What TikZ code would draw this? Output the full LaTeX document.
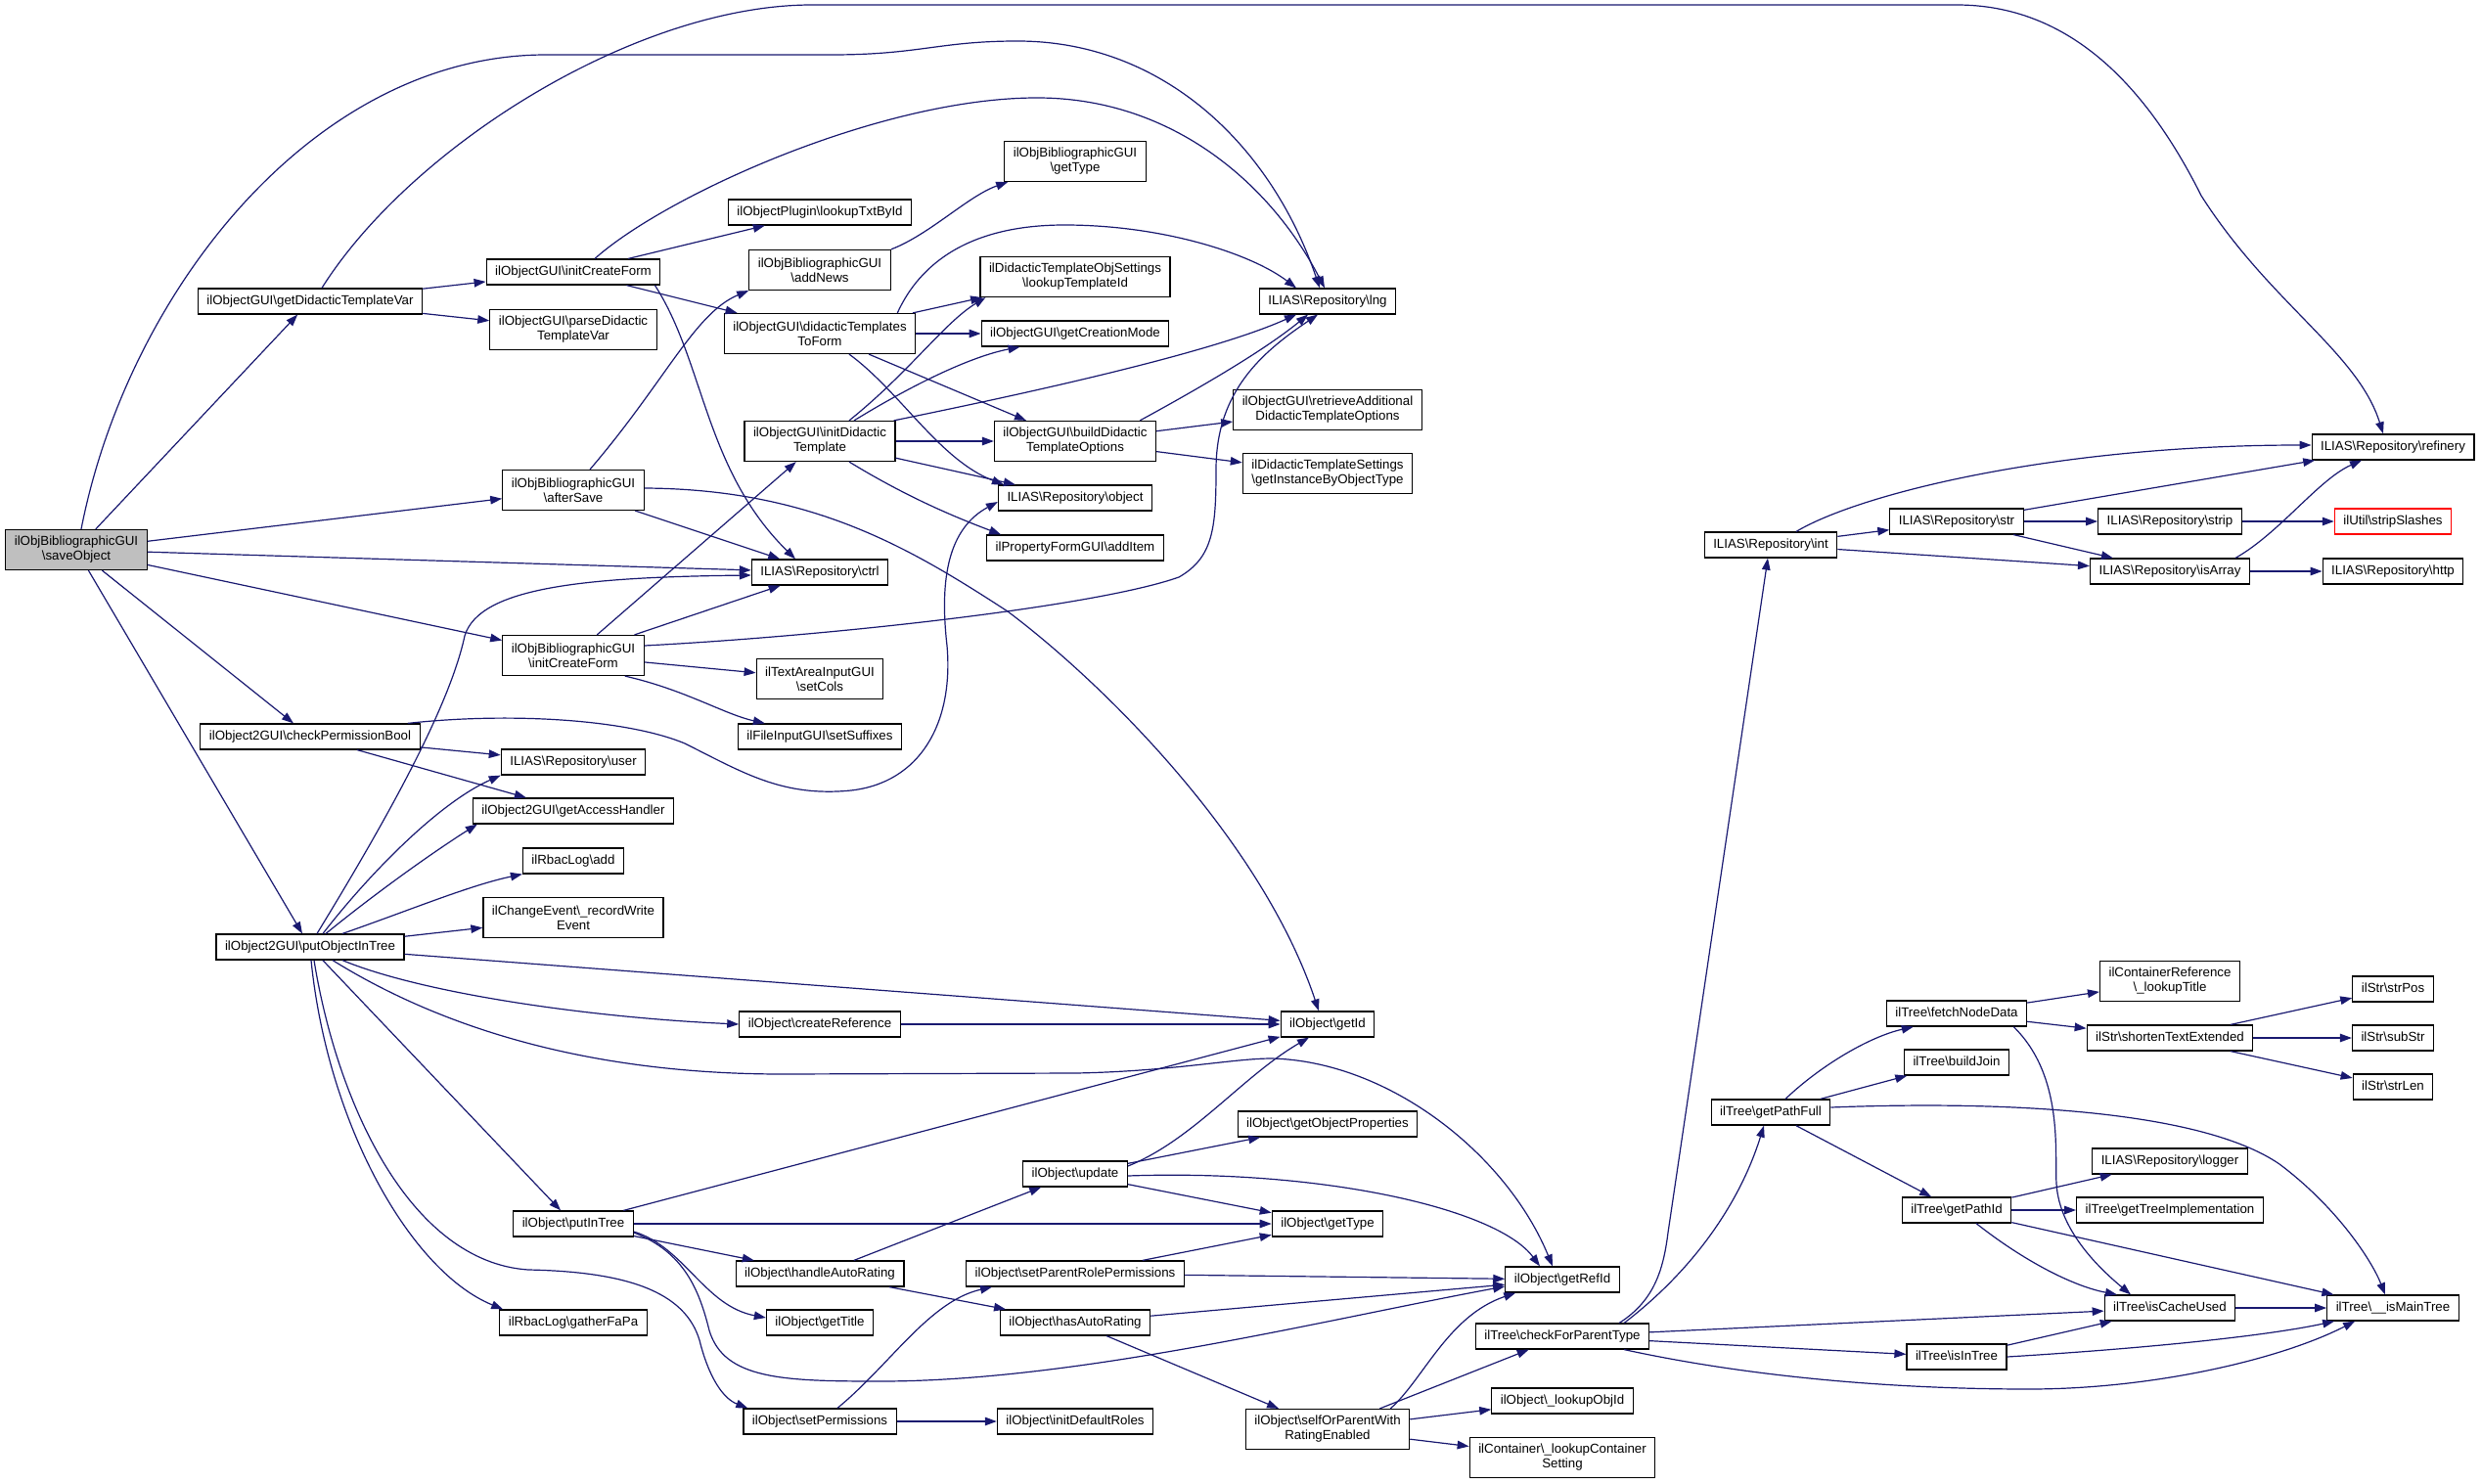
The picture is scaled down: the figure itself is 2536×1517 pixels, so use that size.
\documentclass[tikz,border=0pt]{standalone}
\usepackage{fontspec}
\setmainfont{Liberation Sans}
\usepackage{xcolor}
\usepackage{tikz}
\usetikzlibrary{arrows.meta}
\definecolor{edgeblue}{HTML}{191970}
\definecolor{rootgray}{HTML}{BFBFBF}
\newcommand{\bksl}{\textbackslash}
\tikzset{
  fn/.style={draw=black, line width=1.2pt, fill=white, inner xsep=9pt, inner ysep=0pt,
    minimum height=26pt, text height=10pt, text depth=3pt,
    font=\fontsize{13.3}{15}\selectfont},
  fntwo/.style={fn, align=center, text height=, text depth=, minimum height=41pt},
  fnroot/.style={fntwo, fill=rootgray},
  fnred/.style={fn, draw=red},
  call/.style={draw=edgeblue, line width=1.2pt, -{Triangle[length=12pt,width=8.5pt]}}
}

\begin{document}
\begin{tikzpicture}[x=1pt,y=-1pt]
  \useasboundingbox (0,0) rectangle (2536,1517);

  \node[fnroot] (save) at (78,562) {ilObjBibliographicGUI\\\bksl{}saveObject};
  \node[fn] (gdtv) at (317,308) {ilObjectGUI\bksl{}getDidacticTemplateVar};
  \node[fn] (cpb) at (317,753) {ilObject2GUI\bksl{}checkPermissionBool};
  \node[fn] (poit) at (317,968) {ilObject2GUI\bksl{}putObjectInTree};

  \node[fn] (icf) at (586,278) {ilObjectGUI\bksl{}initCreateForm};
  \node[fntwo] (pdtv) at (586,337) {ilObjectGUI\bksl{}parseDidactic\\TemplateVar};
  \node[fntwo] (aftersave) at (586,501) {ilObjBibliographicGUI\\\bksl{}afterSave};
  \node[fntwo] (icfbib) at (586,670) {ilObjBibliographicGUI\\\bksl{}initCreateForm};
  \node[fn] (user) at (586,779) {ILIAS\bksl{}Repository\bksl{}user};
  \node[fn] (gah) at (586,829) {ilObject2GUI\bksl{}getAccessHandler};
  \node[fn] (rbacadd) at (586,880) {ilRbacLog\bksl{}add};
  \node[fntwo] (recwrite) at (586,938) {ilChangeEvent\bksl\_recordWrite\\Event};
  \node[fn] (putintree) at (586,1251) {ilObject\bksl{}putInTree};
  \node[fn] (gather) at (586,1352) {ilRbacLog\bksl{}gatherFaPa};

  \node[fn] (lookuptxt) at (838,217) {ilObjectPlugin\bksl{}lookupTxtById};
  \node[fntwo] (addnews) at (838,276) {ilObjBibliographicGUI\\\bksl{}addNews};
  \node[fntwo] (dttf) at (838,341) {ilObjectGUI\bksl{}didacticTemplates\\ToForm};
  \node[fntwo] (idt) at (838,451) {ilObjectGUI\bksl{}initDidactic\\Template};
  \node[fn] (ctrl) at (838,585) {ILIAS\bksl{}Repository\bksl{}ctrl};
  \node[fntwo] (setcols) at (838,694) {ilTextAreaInputGUI\\\bksl{}setCols};
  \node[fn] (setsuff) at (838,753) {ilFileInputGUI\bksl{}setSuffixes};
  \node[fn] (createref) at (838,1047) {ilObject\bksl{}createReference};
  \node[fn] (har) at (838,1302) {ilObject\bksl{}handleAutoRating};
  \node[fn] (gettitle) at (838,1352) {ilObject\bksl{}getTitle};
  \node[fn] (setperm) at (838,1453) {ilObject\bksl{}setPermissions};

  \node[fntwo] (bibtype) at (1099,165) {ilObjBibliographicGUI\\\bksl{}getType};
  \node[fntwo] (lookuptpl) at (1099,283) {ilDidacticTemplateObjSettings\\\bksl{}lookupTemplateId};
  \node[fn] (creamode) at (1099,341) {ilObjectGUI\bksl{}getCreationMode};
  \node[fntwo] (bdto) at (1099,451) {ilObjectGUI\bksl{}buildDidactic\\TemplateOptions};
  \node[fn] (object) at (1099,509) {ILIAS\bksl{}Repository\bksl{}object};
  \node[fn] (additem) at (1099,560) {ilPropertyFormGUI\bksl{}addItem};
  \node[fn] (update) at (1099,1200) {ilObject\bksl{}update};
  \node[fn] (sprp) at (1099,1302) {ilObject\bksl{}setParentRolePermissions};
  \node[fn] (hasar) at (1099,1352) {ilObject\bksl{}hasAutoRating};
  \node[fn] (initroles) at (1099,1453) {ilObject\bksl{}initDefaultRoles};

  \node[fn] (lng) at (1357,308) {ILIAS\bksl{}Repository\bksl{}lng};
  \node[fntwo] (retrieve) at (1357,419) {ilObjectGUI\bksl{}retrieveAdditional\\DidacticTemplateOptions};
  \node[fntwo] (getinst) at (1357,484) {ilDidacticTemplateSettings\\\bksl{}getInstanceByObjectType};
  \node[fn] (getid) at (1357,1047) {ilObject\bksl{}getId};
  \node[fn] (objprops) at (1357,1149) {ilObject\bksl{}getObjectProperties};
  \node[fn] (objtype) at (1357,1251) {ilObject\bksl{}getType};
  \node[fntwo] (selfor) at (1357,1461) {ilObject\bksl{}selfOrParentWith\\RatingEnabled};

  \node[fn] (refid) at (1597,1308) {ilObject\bksl{}getRefId};
  \node[fn] (cfpt) at (1597,1366) {ilTree\bksl{}checkForParentType};
  \node[fn] (lookupobj) at (1597,1432) {ilObject\bksl\_lookupObjId};
  \node[fntwo] (lookupcont) at (1597,1490) {ilContainer\bksl\_lookupContainer\\Setting};

  \node[fn] (int) at (1810,557) {ILIAS\bksl{}Repository\bksl{}int};
  \node[fn] (pathfull) at (1810,1137) {ilTree\bksl{}getPathFull};

  \node[fn] (str) at (2000,533) {ILIAS\bksl{}Repository\bksl{}str};
  \node[fn] (fetch) at (2000,1036) {ilTree\bksl{}fetchNodeData};
  \node[fn] (buildjoin) at (2000,1086) {ilTree\bksl{}buildJoin};
  \node[fn] (pathid) at (2000,1237) {ilTree\bksl{}getPathId};
  \node[fn] (isintree) at (2000,1387) {ilTree\bksl{}isInTree};

  \node[fn] (strip) at (2218,533) {ILIAS\bksl{}Repository\bksl{}strip};
  \node[fn] (isarray) at (2218,584) {ILIAS\bksl{}Repository\bksl{}isArray};
  \node[fntwo] (lookuptitle) at (2218,1003) {ilContainerReference\\\bksl\_lookupTitle};
  \node[fn] (shorten) at (2218,1061) {ilStr\bksl{}shortenTextExtended};
  \node[fn] (logger) at (2218,1187) {ILIAS\bksl{}Repository\bksl{}logger};
  \node[fn] (treeimpl) at (2218,1237) {ilTree\bksl{}getTreeImplementation};
  \node[fn] (cacheused) at (2218,1337) {ilTree\bksl{}isCacheUsed};

  \node[fn] (refinery) at (2446,457) {ILIAS\bksl{}Repository\bksl{}refinery};
  \node[fnred] (stripsl) at (2446,533) {ilUtil\bksl{}stripSlashes};
  \node[fn] (http) at (2446,584) {ILIAS\bksl{}Repository\bksl{}http};
  \node[fn] (strpos) at (2446,1011) {ilStr\bksl{}strPos};
  \node[fn] (substr) at (2446,1061) {ilStr\bksl{}subStr};
  \node[fn] (strlen) at (2446,1111) {ilStr\bksl{}strLen};
  \node[fn] (ismain) at (2446,1337) {ilTree\bksl\_\_isMainTree};

  \draw[call] ([xshift=5pt]save.north) .. controls (130,300) and (320,56) .. (558,56) -- (850,56)
    .. controls (940,56) and (960,42) .. (1040,42) .. controls (1190,42) and (1300,150) .. ([xshift=-8pt]lng.north);
  \draw[call] (save) -- (gdtv);
  \draw[call] (save) -- (aftersave);
  \draw[call] (save) -- (ctrl);
  \draw[call] (save) -- (icfbib);
  \draw[call] (save) -- (cpb);
  \draw[call] (save) -- (poit);

  \draw[call] (gdtv) -- (icf);
  \draw[call] (gdtv) -- (pdtv);
  \draw[call] ([xshift=12pt]gdtv.north) .. controls (420,150) and (650,5) .. (830,5) -- (2000,5)
    .. controls (2110,5) and (2190,80) .. (2250,200) .. controls (2320,310) and (2410,360) .. ([xshift=-10pt]refinery.north);

  \draw[call] (icf) -- (lookuptxt);
  \draw[call] (icf) -- (dttf);
  \draw[call] ([xshift=-6pt]icf.south east) .. controls (720,370) and (720,480) .. ([xshift=-25pt]ctrl.north);
  \draw[call] ([xshift=22pt]icf.north) .. controls (680,200) and (900,100) .. (1060,100)
    .. controls (1200,100) and (1300,190) .. ([xshift=-3pt]lng.north);

  \draw[call] (addnews.north east) .. controls (950,240) and (990,200) .. ([xshift=4pt]bibtype.south west);

  \draw[call] (dttf) -- (lookuptpl);
  \draw[call] (dttf) -- (creamode);
  \draw[call] (dttf) -- (bdto);
  \draw[call] ([xshift=30pt]dttf.south) .. controls (920,400) and (960,470) .. ([xshift=6pt]object.north west);
  \draw[call] ([xshift=-19pt]dttf.north east) .. controls (940,270) and (990,230) .. (1088,230)
    .. controls (1190,230) and (1280,260) .. ([xshift=-32pt]lng.north);

  \draw[call] ([xshift=30pt]idt.north) .. controls (930,380) and (965,330) .. ([xshift=6pt]lookuptpl.south west);
  \draw[call] ([xshift=35pt]idt.north) .. controls (930,395) and (990,365) .. ([xshift=40pt]creamode.south west);
  \draw[call] (idt) -- (bdto);
  \draw[call] (idt) -- (object);
  \draw[call] ([xshift=30pt]idt.south) .. controls (930,510) and (980,530) .. ([xshift=15pt]additem.north west);
  \draw[call] ([xshift=-2pt]idt.north east) .. controls (1060,400) and (1240,360) .. ([xshift=-32pt]lng.south);

  \draw[call] (bdto) -- (retrieve);
  \draw[call] (bdto) -- (getinst);
  \draw[call] ([xshift=-17pt]bdto.north east) .. controls (1220,400) and (1290,360) .. ([xshift=-20pt]lng.south);

  \draw[call] ([xshift=17pt]aftersave.north) .. controls (680,390) and (710,320) .. (addnews.south west);
  \draw[call] (aftersave) -- (ctrl);
  \draw[call] ([yshift=2pt]aftersave.east) .. controls (830,500) and (930,560) .. (1030,625)
    .. controls (1130,700) and (1290,860) .. ([xshift=-9pt]getid.north);

  \draw[call] (icfbib) -- (idt);
  \draw[call] (icfbib) -- (ctrl);
  \draw[call] (icfbib) -- (setcols);
  \draw[call] ([xshift=-20pt]icfbib.south east) .. controls (700,705) and (740,730) .. ([xshift=28pt]setsuff.north west);
  \draw[call] ([yshift=10pt]icfbib.east) .. controls (850,650) and (1120,620) .. (1205,590)
    .. controls (1240,570) and (1243,540) .. (1243,480) .. controls (1243,400) and (1290,360) .. ([xshift=-10pt]lng.south);

  \draw[call] (cpb) -- (user);
  \draw[call] (cpb) -- (gah);
  \draw[call] ([xshift=-13pt]cpb.north east) .. controls (520,728) and (640,735) .. (700,760)
    .. controls (760,790) and (800,815) .. (870,808) .. controls (940,800) and (975,740) .. (968,660)
    .. controls (960,590) and (970,540) .. ([yshift=-4pt]object.west);

  \draw[call] ([xshift=7pt]poit.north) .. controls (400,830) and (460,720) .. (475,650)
    .. controls (490,600) and (600,590) .. ([yshift=-3pt]ctrl.west);
  \draw[call] ([xshift=13pt]poit.north) .. controls (380,890) and (450,820) .. (user.south west);
  \draw[call] ([xshift=16pt]poit.north) .. controls (400,900) and (460,860) .. ([xshift=5pt]gah.south west);
  \draw[call] ([xshift=33pt]poit.north) .. controls (420,930) and (480,905) .. (rbacadd.south west);
  \draw[call] (poit) -- (recwrite);
  \draw[call] (poit) -- (getid);
  \draw[call] ([xshift=33pt]poit.south) .. controls (430,1015) and (600,1040) .. (createref.west);
  \draw[call] ([xshift=23pt]poit.south) .. controls (450,1050) and (600,1098) .. (800,1098) -- (1100,1097)
    .. controls (1200,1095) and (1260,1082) .. (1300,1082) .. controls (1420,1085) and (1540,1180) .. ([xshift=-10pt]refid.north);
  \draw[call] (poit) -- (putintree);
  \draw[call] ([xshift=1pt]poit.south) .. controls (335,1150) and (420,1300) .. ([xshift=4pt]gather.north west);
  \draw[call] ([xshift=4pt]poit.south) .. controls (345,1130) and (420,1290) .. (540,1298)
    .. controls (640,1300) and (700,1320) .. (715,1370) .. controls (725,1410) and (740,1430) .. ([xshift=5pt]setperm.north west);

  \draw[call] (createref) -- (getid);

  \draw[call] (putintree) -- (getid);
  \draw[call] (putintree) -- (objtype);
  \draw[call] (putintree) -- (har);
  \draw[call] ([yshift=-8pt]putintree.east) .. controls (700,1275) and (720,1335) .. ([yshift=5pt]gettitle.west);
  \draw[call] ([yshift=-9pt]putintree.east) .. controls (700,1280) and (715,1320) .. (725,1360)
    .. controls (740,1410) and (800,1412) .. (900,1412) .. controls (1100,1412) and (1350,1350) .. ([yshift=-7pt]refid.west);

  \draw[call] (har) -- (update);
  \draw[call] (har) -- (hasar);

  \draw[call] ([yshift=8pt]update.east) .. controls (1220,1165) and (1270,1100) .. ([xshift=-19pt]getid.south);
  \draw[call] (update) -- (objprops);
  \draw[call] (update) -- (objtype);
  \draw[call] ([yshift=-2pt]update.east) .. controls (1350,1195) and (1530,1235) .. ([xshift=-23pt]refid.north);

  \draw[call] (sprp) -- (objtype);
  \draw[call] (sprp) -- (refid);
  \draw[call] (hasar) -- (refid);
  \draw[call] (hasar) -- (selfor);

  \draw[call] ([xshift=-20pt]selfor.north east) .. controls (1455,1410) and (1480,1345) .. ([xshift=11pt]refid.south west);
  \draw[call] (selfor) -- (cfpt);
  \draw[call] (selfor) -- (lookupobj);
  \draw[call] (selfor) -- (lookupcont);

  \draw[call] ([xshift=18pt]setperm.north) .. controls (910,1395) and (950,1330) .. ([xshift=27pt]sprp.south west);
  \draw[call] (setperm) -- (initroles);

  \draw[call] ([xshift=-31pt]cfpt.north east) .. controls (1690,1330) and (1700,1300) .. (1705,1260) -- ([xshift=-3pt]int.south);
  \draw[call] ([xshift=-26pt]cfpt.north east) .. controls (1735,1295) and (1780,1225) .. ([xshift=-7pt]pathfull.south);
  \draw[call] (cfpt) -- (cacheused);
  \draw[call] (cfpt) -- (isintree);
  \draw[call] ([xshift=-26pt]cfpt.south east) .. controls (1800,1410) and (1950,1420) .. (2074,1420)
    .. controls (2200,1420) and (2330,1390) .. ([xshift=29pt]ismain.south west);

  \draw[call] ([xshift=15pt]pathfull.north) .. controls (1860,1090) and (1910,1060) .. ([xshift=28pt]fetch.south west);
  \draw[call] (pathfull) -- (buildjoin);
  \draw[call] (pathfull) -- (pathid);
  \draw[call] ([yshift=5pt]pathfull.east) .. controls (2050,1125) and (2250,1135) .. (2330,1190)
    .. controls (2390,1235) and (2425,1290) .. ([xshift=-8pt]ismain.north);

  \draw[call] (fetch) -- (lookuptitle);
  \draw[call] (fetch) -- (shorten);
  \draw[call] ([xshift=-14pt]fetch.south east) .. controls (2110,1100) and (2100,1180) .. (2102,1210)
    .. controls (2105,1260) and (2150,1300) .. ([xshift=-40pt]cacheused.north);

  \draw[call] (shorten) -- (strpos);
  \draw[call] (shorten) -- (substr);
  \draw[call] (shorten) -- (strlen);

  \draw[call] (pathid) -- (logger);
  \draw[call] (pathid) -- (treeimpl);
  \draw[call] ([xshift=20pt]pathid.south) .. controls (2070,1290) and (2120,1315) .. ([xshift=-54pt]cacheused.north);
  \draw[call] (pathid) -- (ismain);

  \draw[call] (isintree) -- (cacheused);
  \draw[call] (isintree.east) .. controls (2200,1378) and (2320,1365) .. ([xshift=8pt]ismain.south west);
  \draw[call] (cacheused) -- (ismain);

  \draw[call] ([xshift=26pt]int.north) .. controls (1900,505) and (2100,455) .. ([yshift=2pt]refinery.west);
  \draw[call] (int) -- (str);
  \draw[call] (int) -- (isarray);

  \draw[call] (str) -- (refinery);
  \draw[call] (str) -- (strip);
  \draw[call] (str) -- (isarray);
  \draw[call] (strip) -- (stripsl);

  \draw[call] ([xshift=-15pt]isarray.north east) .. controls (2330,545) and (2370,490) .. ([xshift=-32pt]refinery.south);
  \draw[call] (isarray) -- (http);
\end{tikzpicture}
\end{document}
